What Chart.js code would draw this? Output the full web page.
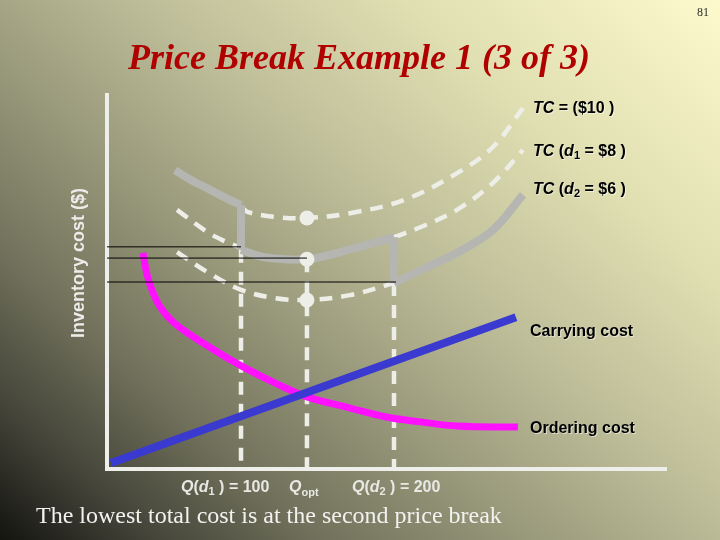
<!DOCTYPE html>
<html><head><meta charset="utf-8">
<script src="https://cdn.jsdelivr.net/npm/chart.js@4/dist/chart.umd.min.js"></script>
<style>html,body{margin:0;padding:0;background:#8a8a6c;}#wrap{width:720px;height:540px;}</style>
</head><body><div id="wrap"><canvas id="c" width="720" height="540"></canvas></div>
<script>
// ---- data (Q = order quantity, C = cost index) ----
const qRange = [12.4, 377.8];
const costRange = [0, 100];
const qBreaks = [100, 143.1, 200];           // Q(d1), Qopt, Q(d2)
const tc10SolidQ = [56.9, 67.3, 77.8, 88.9, 100];
const tc10SolidC = [79.9, 77.3, 75.1, 72.7, 70.6];
const tc10DashQ = [100, 104.6, 122.2, 143.1, 171.2, 206.5, 241.2, 264.7, 284.3];
const tc10DashC = [70.1, 68.7, 67.4, 67.1, 68.4, 71.9, 79.1, 86.1, 96.5];
const tc8DashLeftQ = [58.2, 77.8, 88.9, 100];
const tc8DashLeftC = [69.3, 63.4, 61.0, 59.1];
const tc8SolidQ = [100, 114.4, 143.1, 173.2, 200];
const tc8SolidC = [58.6, 56.7, 56.1, 58.9, 62.0];
const tc8DashRightQ = [200, 217.6, 241.2, 264.7, 284.3];
const tc8DashRightC = [62.0, 64.7, 69.3, 76.5, 85.3];
const tc6DashQ = [58.2, 77.8, 100, 122.2, 143.1, 171.2, 200];
const tc6DashC = [58.0, 52.7, 47.9, 45.7, 45.2, 46.5, 49.7];
const tc6SolidQ = [200, 217.6, 241.2, 264.7, 284.3];
const tc6SolidC = [49.7, 53.2, 57.8, 63.9, 73.3];
const breakStepQ1 = [100, 100];  const breakStepC1 = [70.6, 58.6];
const breakStepQ2 = [200, 200];  const breakStepC2 = [62.0, 49.7];
const dropTopC = [58.6, 56.1, 49.7];          // tops of the vertical dashed drop lines
const optimumC = [67.1, 56.1, 45.2];          // cost at Qopt on each TC curve
const levelC = [59.4, 56.4, 50.0];            // horizontal cost reference lines
const levelEndQ = [100, 143.1, 201.3];
const orderingQ = [35.9, 38.6, 42.5, 47.7, 55.6, 66.0, 82.4, 101.3, 124.8, 143.1, 171.2, 194.8, 217.6, 241.2, 281.0];
const orderingC = [57.8, 51.9, 47.1, 43.0, 39.3, 36.1, 31.8, 27.3, 22.5, 19.3, 16.3, 13.9, 12.6, 11.5, 11.2];
const carryingQ = [15.0, 279.7];
const carryingC = [1.6, 40.6];
const titleText = 'Price Break Example 1 (3 of 3)';
const pageNo = '81';
const yAxisLabel = 'Inventory cost ($)';
const footText = 'The lowest total cost is at the second price break';

const pts = (qs, cs) => qs.map((q, i) => ({x: q, y: cs[i]}));
const SANS = '"Liberation Sans", Arial, sans-serif';
const SERIF = '"Liberation Serif", "Times New Roman", serif';
const GRAY = '#b5b5b2', WHITE = '#eeeee8';

const solid = (data) => ({data, borderColor: GRAY, borderWidth: 8, pointRadius: 0, tension: 0.35, borderJoinStyle: 'miter'});
const dashed = (data) => ({data, borderColor: WHITE, borderWidth: 4.5, borderDash: [13, 9], pointRadius: 0, tension: 0.35});

const datasets = [];
// top layers first (dataset 0 is drawn last)
levelC.forEach((c, i) => datasets.push({data: pts([qRange[0], levelEndQ[i]], [c, c]), borderColor: '#000', borderWidth: 1, pointRadius: 0}));
datasets.push({data: pts(carryingQ, carryingC), borderColor: '#3a3ad0', borderWidth: 8, pointRadius: 0});
datasets.push({data: pts(orderingQ, orderingC), borderColor: '#ff10ff', borderWidth: 7, pointRadius: 0, tension: 0.4});
datasets.push({data: pts([qBreaks[1], qBreaks[1], qBreaks[1]], optimumC), showLine: false, pointRadius: 7.5, pointBackgroundColor: WHITE, pointBorderWidth: 0});
datasets.push(solid(pts(tc10SolidQ, tc10SolidC)));
datasets.push(solid(pts(breakStepQ1, breakStepC1)));
datasets.push(solid(pts(tc8SolidQ, tc8SolidC)));
datasets.push(solid(pts(breakStepQ2, breakStepC2)));
datasets.push(solid(pts(tc6SolidQ, tc6SolidC)));
datasets.push(dashed(pts(tc10DashQ, tc10DashC)));
datasets.push(dashed(pts(tc8DashLeftQ, tc8DashLeftC)));
datasets.push(dashed(pts(tc8DashRightQ, tc8DashRightC)));
datasets.push(dashed(pts(tc6DashQ, tc6DashC)));
qBreaks.forEach((q, i) => datasets.push({data: pts([q, q], [dropTopC[i], 0]), borderColor: WHITE, borderWidth: 4.5, borderDash: [13, 9], pointRadius: 0}));

function runs(ctx, x, y, list, color, shadow) {
  ctx.save();
  ctx.textBaseline = 'middle';
  ctx.textAlign = 'left';
  if (shadow) { ctx.shadowColor = shadow; ctx.shadowOffsetX = 1; ctx.shadowOffsetY = 1; ctx.shadowBlur = 0; }
  ctx.fillStyle = color;
  for (const r of list) {
    ctx.font = r.f;
    ctx.fillText(r.t, x, y + (r.dy || 0));
    x += ctx.measureText(r.t).width;
  }
  ctx.restore();
}

const bgPlugin = {
  id: 'bg',
  beforeDraw(chart) {
    const ctx = chart.ctx;
    ctx.save();
    const g = ctx.createLinearGradient(0, 540, 591, -117);
    g.addColorStop(0, '#141410');
    g.addColorStop(0.118, '#45453a');
    g.addColorStop(0.253, '#74745e');
    g.addColorStop(0.455, '#a6a686');
    g.addColorStop(0.556, '#bcbc98');
    g.addColorStop(0.758, '#e0dfb2');
    g.addColorStop(1, '#fdfacd');
    ctx.fillStyle = g;
    ctx.fillRect(0, 0, chart.width, chart.height);
    ctx.restore();
  }
};

const textPlugin = {
  id: 'texts',
  afterDraw(chart) {
    const ctx = chart.ctx;
    ctx.save();
    ctx.fillStyle = '#2a2a2a';
    ctx.font = '12px ' + SERIF;
    ctx.textAlign = 'left'; ctx.textBaseline = 'alphabetic';
    ctx.fillText(pageNo, 697, 16);
    ctx.fillStyle = '#b00000';
    ctx.font = 'italic bold 36px ' + SERIF;
    ctx.textAlign = 'center';
    ctx.fillText(titleText, 359, 69);
    ctx.fillStyle = '#f2f2f0';
    ctx.font = '24px ' + SERIF;
    ctx.textAlign = 'left';
    ctx.fillText(footText, 36, 523);
    ctx.save();
    ctx.translate(79, 263);
    ctx.rotate(-Math.PI / 2);
    ctx.fillStyle = '#ececea';
    ctx.font = 'bold 18px ' + SANS;
    ctx.textAlign = 'center'; ctx.textBaseline = 'middle';
    ctx.fillText(yAxisLabel, 0, 0);
    ctx.restore();
    ctx.restore();

    const B = 'bold 16px ' + SANS, BI = 'italic bold 16px ' + SANS, SUB = 'bold 11px ' + SANS;
    const sh = 'rgba(255,255,255,0.55)';
    runs(ctx, 533, 109, [{t: 'TC', f: BI}, {t: ' = ($10 )', f: B}], '#000', sh);
    runs(ctx, 533, 152, [{t: 'TC', f: BI}, {t: ' (', f: B}, {t: 'd', f: BI}, {t: '1', f: SUB, dy: 4}, {t: ' = $8 )', f: B}], '#000', sh);
    runs(ctx, 533, 190, [{t: 'TC', f: BI}, {t: ' (', f: B}, {t: 'd', f: BI}, {t: '2', f: SUB, dy: 4}, {t: ' = $6 )', f: B}], '#000', sh);
    runs(ctx, 530, 332, [{t: 'Carrying cost', f: B}], '#000', sh);
    runs(ctx, 530, 429, [{t: 'Ordering cost', f: B}], '#000', sh);
    const LC = '#e8e8e4';
    runs(ctx, 181, 488, [{t: 'Q', f: BI}, {t: '(', f: B}, {t: 'd', f: BI}, {t: '1', f: SUB, dy: 4}, {t: ' ) = 100', f: B}], LC);
    runs(ctx, 289, 488, [{t: 'Q', f: BI}, {t: 'opt', f: SUB, dy: 5}], LC);
    runs(ctx, 352, 488, [{t: 'Q', f: BI}, {t: '(', f: B}, {t: 'd', f: BI}, {t: '2', f: SUB, dy: 4}, {t: ' ) = 200', f: B}], LC);
  }
};

const axisOpts = (r) => ({
  type: 'linear', min: r[0], max: r[1],
  grid: {display: false, drawTicks: false},
  ticks: {display: false},
  border: {display: true, color: '#eeeeea', width: 4}
});

new Chart(document.getElementById('c'), {
  type: 'line',
  data: {datasets},
  options: {
    responsive: false, animation: false, devicePixelRatio: 1,
    layout: {padding: {left: 107, top: 95, right: 54, bottom: 71}},
    plugins: {legend: {display: false}, tooltip: {enabled: false}, title: {display: false}},
    scales: {x: axisOpts(qRange), y: axisOpts(costRange)},
    elements: {line: {borderCapStyle: 'butt', fill: false}}
  },
  plugins: [bgPlugin, textPlugin]
});
</script></body></html>
